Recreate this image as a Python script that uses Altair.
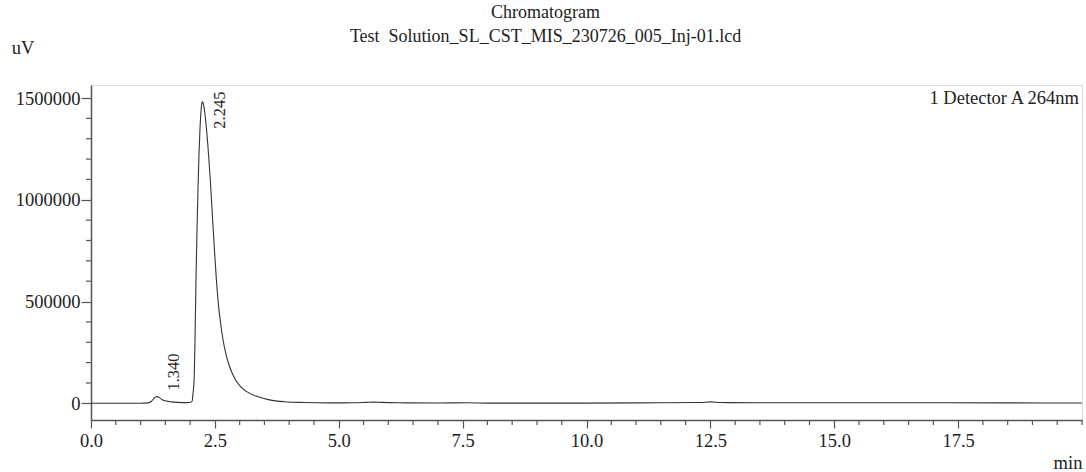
import altair as alt
import pandas as pd

# ---- data ----
time_min = [0.0, 0.5, 1.0, 1.15, 1.22, 1.27, 1.31, 1.34, 1.38, 1.44, 1.52, 1.62, 1.75, 1.9,
            2.0, 2.04, 2.06, 2.08, 2.10, 2.12, 2.14, 2.16, 2.18, 2.20, 2.22, 2.235, 2.25,
            2.265, 2.29, 2.33, 2.37, 2.41, 2.45, 2.49, 2.53, 2.57, 2.62, 2.67, 2.72, 2.78,
            2.85, 2.93, 3.02, 3.15, 3.36, 3.6, 3.9, 4.3, 4.8, 5.3, 5.55, 5.7, 5.85, 6.2, 7.0,
            7.6, 8.0, 10.0, 11.5, 12.3, 12.5, 12.7, 13.5, 15.0, 17.0, 18.5, 20.0]
signal_uv = [0, 0, 500, 2000, 10000, 24000, 32000, 33000, 28000, 18000, 11000, 7000, 4500, 3500,
             4000, 10000, 50000, 110000, 330000, 620000, 860000, 1060000, 1230000, 1350000, 1435000, 1472000, 1482000,
             1474000, 1440000, 1350000, 1230000, 1090000, 920000, 760000, 610000, 490000, 385000, 305000, 245000, 192000,
             148000, 110000, 82000, 56000, 33000, 17000, 8000, 4000, 2000, 2500, 4500, 6000, 4500, 2500, 1500,
             2500, 1000, 1000, 3000, 4000, 7000, 4000, 3000, 3000, 2500, 2000, 1500]

peak_times = [1.340, 2.245]
peak_heights = [33000, 1482000]
peak_labels = ["1.340", "2.245"]

title_lines = ["Chromatogram", "Test\u00a0\u00a0Solution_SL_CST_MIS_230726_005_Inj-01.lcd"]
y_unit = ["uV"]
x_unit = ["min"]
detector = ["1 Detector A 264nm"]

x_major = [0.0, 2.5, 5.0, 7.5, 10.0, 12.5, 15.0, 17.5]
x_minor = [0.5, 1.0, 1.5, 2.0, 3.0, 3.5, 4.0, 4.5, 5.5, 6.0, 6.5, 7.0, 8.0, 8.5, 9.0, 9.5,
           10.5, 11.0, 11.5, 12.0, 13.0, 13.5, 14.0, 14.5, 15.5, 16.0, 16.5, 17.0,
           18.0, 18.5, 19.0, 19.5, 20.0]
y_major = [0, 500000, 1000000, 1500000]
y_minor = [100000, 200000, 300000, 400000, 600000, 700000, 800000, 900000,
           1100000, 1200000, 1300000, 1400000]

FONT = "Liberation Serif"
FS = 18.5
INK = "#222222"
FRAME = "#555555"

df = pd.DataFrame({"t": time_min, "v": signal_uv})
pk = pd.DataFrame({"t": peak_times, "v": peak_heights, "label": peak_labels})

xs = alt.Scale(domain=[0, 20], nice=False, zero=False)
ys = alt.Scale(domain=[-82000, 1564000], nice=False, zero=False)

x_axis = alt.Axis(
    values=x_major, title=None, grid=False, format=".1f", tickSize=8,
    labelFont=FONT, labelFontSize=FS, labelColor=INK, labelPadding=3,
    labelOverlap=False, labelFlush=False,
    domainColor=FRAME, domainWidth=1.5, tickColor=FRAME, tickWidth=1.2,
)
y_axis = alt.Axis(
    values=y_major, title=None, grid=False, format="d", tickSize=10,
    labelFont=FONT, labelFontSize=FS, labelColor=INK, labelPadding=1,
    labelOverlap=False, labelFlush=False,
    domainColor=FRAME, domainWidth=1.5, tickColor=FRAME, tickWidth=1.2,
)

line = alt.Chart(df).mark_line(color="#333333", strokeWidth=1.1, interpolate="monotone", clip=True).encode(
    x=alt.X("t:Q", scale=xs, axis=x_axis),
    y=alt.Y("v:Q", scale=ys, axis=y_axis),
)

x_minor_ticks = alt.Chart(pd.DataFrame({"t": x_minor})).mark_rule(color=FRAME, strokeWidth=1.2).encode(
    x=alt.X("t:Q", scale=xs), y=alt.value(335), y2=alt.value(340)
)
y_minor_ticks = alt.Chart(pd.DataFrame({"v": y_minor})).mark_rule(color=FRAME, strokeWidth=1.2).encode(
    y=alt.Y("v:Q", scale=ys), x=alt.value(-5), x2=alt.value(0)
)

lab_main = alt.Chart(pk).transform_filter("datum.label == '2.245'").mark_text(
    font=FONT, fontSize=16.5, color=INK, angle=270, align="left", baseline="middle", dx=-27, dy=18
).encode(x=alt.X("t:Q", scale=xs), y=alt.Y("v:Q", scale=ys), text="label:N")

lab_small = alt.Chart(pk).transform_filter("datum.label == '1.340'").mark_text(
    font=FONT, fontSize=16.5, color=INK, angle=270, align="left", baseline="middle", dx=6, dy=17
).encode(x=alt.X("t:Q", scale=xs), y=alt.Y("v:Q", scale=ys), text="label:N")

uv = alt.Chart(pd.DataFrame({"s": y_unit})).mark_text(
    font=FONT, fontSize=FS, color=INK, align="center", baseline="middle"
).encode(x=alt.value(-68), y=alt.value(-37), text="s:N")

mn = alt.Chart(pd.DataFrame({"s": x_unit})).mark_text(
    font=FONT, fontSize=FS, color=INK, align="center", baseline="middle"
).encode(x=alt.value(977), y=alt.value(378), text="s:N")

det = alt.Chart(pd.DataFrame({"s": detector})).mark_text(
    font=FONT, fontSize=FS, color=INK, align="right", baseline="middle"
).encode(x=alt.value(988), y=alt.value(13), text="s:N")

chart = alt.layer(line, x_minor_ticks, y_minor_ticks, lab_main, lab_small, uv, mn, det).properties(
    width=991, height=335,
    autosize=alt.AutoSizeParams(type="none"),
    padding={"left": 91, "top": 85, "right": 4, "bottom": 52},
    title=alt.Title(title_lines, font=FONT, fontSize=18, fontWeight="normal", color=INK,
                    anchor="middle", lineHeight=24, offset=-7, dx=-41),
).configure_view(stroke=FRAME, strokeWidth=1.5).configure(background="white")

chart.save("out.html", embed_options={"renderer": "svg", "actions": False})
